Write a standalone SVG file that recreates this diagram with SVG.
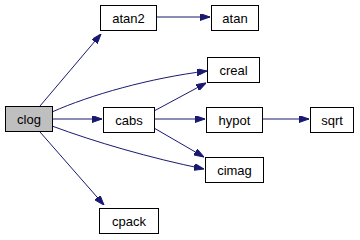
<svg xmlns="http://www.w3.org/2000/svg" width="360" height="240" viewBox="0 0 360 240">
<style>
.node rect{fill:#fff;stroke:#000;stroke-width:1}
#clog rect{fill:#bfbfbf}
.node text{font-family:"Liberation Sans",Arial,sans-serif;font-size:13px;text-anchor:middle;fill:#000}
#edges path{fill:none;stroke:#191970;stroke-width:1}
</style>
<defs>
<marker id="ah" viewBox="0 0 10 7" refX="10" refY="3.5" markerWidth="10" markerHeight="7" markerUnits="userSpaceOnUse" orient="auto">
<path d="M0,0 L10,3.5 L0,7 Z" fill="#191970" stroke="#191970"/>
</marker>
</defs>
<rect width="360" height="240" fill="#fff"/>
<g id="edges">
<path d="M40,106 L101,34" marker-end="url(#ah)"/>
<path d="M52,112 C90,95 150,78 207,71" marker-end="url(#ah)"/>
<path d="M52,119 L102,119" marker-end="url(#ah)"/>
<path d="M52,126 C95,142 150,158 204,169" marker-end="url(#ah)"/>
<path d="M40,132 L104,205" marker-end="url(#ah)"/>
<path d="M156,17 L210,17" marker-end="url(#ah)"/>
<path d="M154,111 L206,83" marker-end="url(#ah)"/>
<path d="M154,119 L205,119" marker-end="url(#ah)"/>
<path d="M154,128 L204,157" marker-end="url(#ah)"/>
<path d="M262,119 L309,119" marker-end="url(#ah)"/>
</g>
<g id="clog" class="node"><rect x="5.5" y="106.5" width="47" height="25"/><text x="29" y="123.5">clog</text></g>
<g id="atan2" class="node"><rect x="100.5" y="5.5" width="56" height="25"/><text x="128.5" y="22.5">atan2</text></g>
<g id="atan" class="node"><rect x="211.5" y="5.5" width="47" height="25"/><text x="235" y="22.5">atan</text></g>
<g id="creal" class="node"><rect x="207.5" y="57.5" width="52" height="25"/><text x="233.5" y="74.5">creal</text></g>
<g id="cabs" class="node"><rect x="103.5" y="107.5" width="51" height="25"/><text x="129" y="124.5">cabs</text></g>
<g id="hypot" class="node"><rect x="206.5" y="107.5" width="56" height="25"/><text x="234.5" y="124.5">hypot</text></g>
<g id="cimag" class="node"><rect x="205.5" y="157.5" width="58" height="25"/><text x="234.5" y="174.5">cimag</text></g>
<g id="cpack" class="node"><rect x="99.5" y="208.5" width="59" height="25"/><text x="129" y="225.5">cpack</text></g>
<g id="sqrt" class="node"><rect x="310.5" y="107.5" width="43" height="25"/><text x="332" y="124.5">sqrt</text></g>
</svg>
